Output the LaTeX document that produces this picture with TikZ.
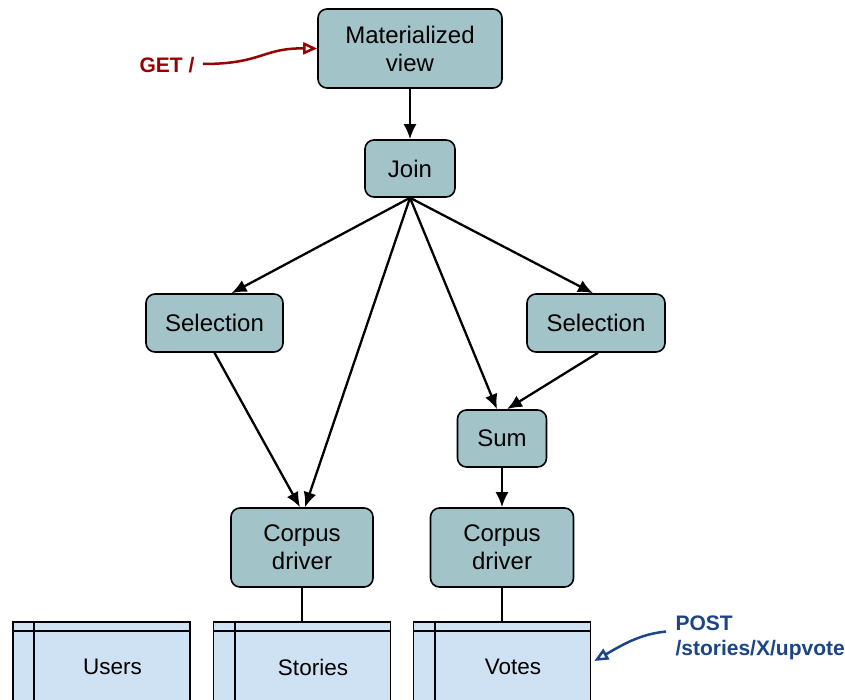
\documentclass[tikz,border=0pt]{standalone}
\usepackage{fontspec}
\setmainfont{Liberation Sans}
\usetikzlibrary{arrows.meta}
\definecolor{opfill}{HTML}{A2C4C9}
\definecolor{tblfill}{HTML}{CFE2F3}
\definecolor{getred}{HTML}{990000}
\definecolor{postblue}{HTML}{1C4587}

\begin{document}
\begin{tikzpicture}[x=1pt, y=-1pt,
		op/.style={draw, fill=opfill, line width=1.6pt, rounded corners=9pt, align=center, inner sep=0pt, font=\fontsize{24}{28}\selectfont},
		tbl/.style={draw, fill=tblfill, line width=1.6pt, minimum width=177pt, minimum height=90pt, inner sep=0pt},
		tbltext/.style={xshift=11pt, font=\fontsize{22.5}{27}\selectfont},
		flow/.style={-{Latex[length=15pt,width=13pt]}, line width=2.3pt},
		link/.style={line width=1.7pt},
		req/.style={font=\bfseries\fontsize{21}{25}\selectfont, align=left},
		reqarrow/.style={line width=2.5pt, -{Triangle[open,length=14pt,width=12pt]}}]

			\useasboundingbox	(0, 0) rectangle (845, 700);
			\clip	(0, 0) rectangle (845, 700);

			% operators
			\node[op, minimum width=184pt, minimum height=79pt]	(mview) at (410, 48.5) {Materialized\\view};
			\node[op, minimum width=90pt, minimum height=57pt]	(join) at (410, 168.5) {Join};
			\node[op, minimum width=137pt, minimum height=58pt]	(selL) at (214.5, 323) {Selection};
			\node[op, minimum width=138pt, minimum height=58pt]	(selR) at (596, 323) {Selection};
			\node[op, minimum width=89pt, minimum height=57pt]	(sum) at (502, 438.5) {Sum};
			\node[op, minimum width=142pt, minimum height=79pt]	(corpusL) at (302, 547.5) {Corpus\\driver};
			\node[op, minimum width=143pt, minimum height=79pt]	(corpusR) at (502, 547.5) {Corpus\\driver};

			% tables
			\node[tbl, label={[tbltext]center:Users}]		(users) at (101.5, 667) {};
			\node[tbl, label={[tbltext]center:Stories}]	(stories) at (302, 667) {};
			\node[tbl, label={[tbltext]center:Votes}]		(votes) at (502, 667) {};
			\foreach \t in {users, stories, votes}
				\draw[link]	([yshift=-10pt]\t.north west) -- ([yshift=-10pt]\t.north east)
							([xshift=22pt]\t.north west) -- ([xshift=22pt]\t.south west);

			% dataflow
			\draw[flow]	(mview) -- (join);
			\draw[flow]	(join.south) -- ([xshift=17pt]selL.north);
			\draw[flow]	(join.south) -- ([xshift=3pt]corpusL.north);
			\draw[flow]	(join.south) -- ([xshift=-5pt]sum.north);
			\draw[flow]	(join.south) -- ([xshift=-3pt]selR.north);
			\draw[flow]	(selL.south) -- ([xshift=-2pt]corpusL.north);
			\draw[flow]	([xshift=2pt]selR.south) -- ([xshift=5pt]sum.north);
			\draw[flow]	(sum) -- (corpusR);

			\draw[link]	(corpusL) -- (stories);
			\draw[link]	(corpusR) -- (votes);

			% requests
			\node[req, text=getred]	(get) at (167, 65) {GET /};
			\draw[reqarrow, getred]	([xshift=5pt, yshift=1pt]get.east) .. controls (262, 64) and (262, 48) .. (mview.west);

			\node[req, text=postblue, anchor=north west]	(post) at (672, 612) {POST\\/stories/X/upvote};
			\draw[reqarrow, postblue]	([xshift=-6pt, yshift=6pt]post.west) .. controls (640, 634) and (622, 645) .. ([xshift=3pt, yshift=6pt]votes.east);
		\end{tikzpicture}
\end{document}
